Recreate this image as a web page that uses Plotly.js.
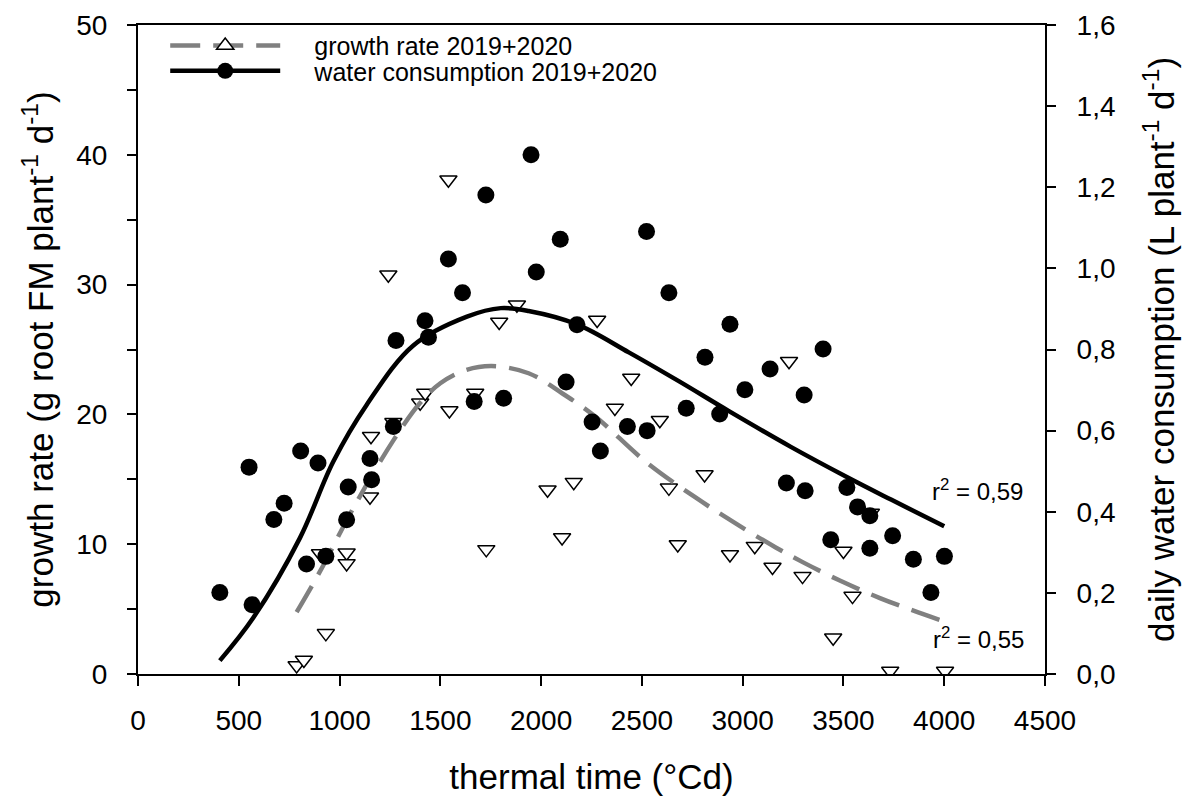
<!DOCTYPE html>
<html>
<head>
<meta charset="utf-8">
<script src="https://cdn.plot.ly/plotly-3.0.1.min.js"></script>
<style>html,body{margin:0;padding:0;background:#fff;}#chart{width:1184px;height:798px;}</style>
</head>
<body>
<div id="chart"></div>
<script>
// growth rate observations (g root FM plant-1 d-1), left axis
const growthX = [787, 823, 903, 932, 1035, 1035, 1151, 1156, 1242, 1267, 1400, 1425, 1540, 1545, 1673, 1728, 1792, 1880, 2032, 2104, 2162, 2278, 2366, 2447, 2589, 2634, 2678, 2811, 2937, 3060, 3148, 3230, 3297, 3449, 3500, 3545, 3636, 3732, 4004];
const growthY = [0.66, 1.08, 9.29, 3.13, 9.34, 8.52, 13.65, 18.32, 30.76, 19.4, 20.9, 21.65, 38.08, 20.3, 21.65, 9.6, 27.12, 28.45, 14.2, 10.52, 14.78, 27.27, 20.5, 22.81, 19.55, 14.34, 9.98, 15.37, 9.21, 9.85, 8.24, 24.1, 7.54, 2.79, 9.47, 6.0, 12.4, 0.23, 0.23];

// daily water consumption observations (L plant-1 d-1), right axis
const waterX = [406, 551, 566, 674, 725, 807, 836, 893, 932, 1035, 1043, 1151, 1159, 1267, 1280, 1424, 1441, 1540, 1610, 1668, 1726, 1814, 1950, 1976, 2095, 2124, 2178, 2253, 2294, 2428, 2523, 2526, 2634, 2720, 2813, 2886, 2937, 3011, 3136, 3217, 3305, 3310, 3399, 3437, 3517, 3570, 3631, 3631, 3744, 3847, 3934, 4001];
const waterY = [0.201, 0.510, 0.171, 0.381, 0.421, 0.550, 0.271, 0.520, 0.290, 0.380, 0.461, 0.531, 0.479, 0.610, 0.822, 0.871, 0.830, 1.023, 0.940, 0.672, 1.181, 0.680, 1.280, 0.991, 1.072, 0.720, 0.861, 0.621, 0.550, 0.610, 1.091, 0.600, 0.940, 0.655, 0.781, 0.641, 0.862, 0.701, 0.752, 0.471, 0.688, 0.452, 0.801, 0.331, 0.460, 0.412, 0.390, 0.310, 0.341, 0.283, 0.201, 0.290];

// fitted curves
const growthFitX = [787, 903, 1068, 1267, 1400, 1500, 1615, 1754, 1938, 2104, 2269, 2518, 2766, 2965, 3164, 3300, 3482, 3681, 3871, 3990];
const growthFitY = [4.77, 7.9, 12.78, 18.0, 20.9, 22.4, 23.35, 23.72, 23.17, 21.63, 19.83, 16.37, 13.6, 11.6, 9.75, 8.6, 7.2, 5.85, 4.75, 4.1];
const waterFitX = [406, 571, 803, 969, 1135, 1366, 1632, 1800, 1938, 2178, 2435, 2683, 2932, 3239, 3512, 3736, 4000];
const waterFitY = [0.033, 0.138, 0.335, 0.524, 0.664, 0.810, 0.881, 0.902, 0.895, 0.862, 0.793, 0.722, 0.648, 0.560, 0.487, 0.430, 0.364];

const seriesNames = ['growth rate 2019+2020', 'water consumption 2019+2020'];
const r2Labels = ['r<sup>2</sup> = 0,59', 'r<sup>2</sup> = 0,55'];

const FONT = 'Liberation Sans, Arial, sans-serif';
const GRAY = '#808080';
const PAD = '\u2003\u2006';

const traces = [
  { x: growthX, y: growthY, yaxis: 'y', mode: 'markers', type: 'scatter', showlegend: false,
    marker: { symbol: 'triangle-down', size: 15, color: '#ffffff', line: { color: '#000', width: 1.5 } } },
  { x: growthFitX, y: growthFitY, yaxis: 'y', mode: 'lines', type: 'scatter', showlegend: false,
    line: { color: GRAY, width: 4.5, dash: '30px,13px', shape: 'spline', smoothing: 1 } },
  { x: waterX, y: waterY, yaxis: 'y2', mode: 'markers', type: 'scatter', showlegend: false,
    marker: { symbol: 'circle', size: 17, color: '#000' } },
  { x: waterFitX, y: waterFitY, yaxis: 'y2', mode: 'lines', type: 'scatter', showlegend: false,
    line: { color: '#000', width: 4.5, shape: 'spline', smoothing: 1 } },
  // legend entries
  { x: [null], y: [null], yaxis: 'y', mode: 'lines+markers', type: 'scatter', name: PAD + seriesNames[0], legend: 'legend',
    line: { color: GRAY, width: 4.5, dash: '30px,13px' },
    marker: { symbol: 'triangle-up', size: 15, color: '#ffffff', line: { color: '#000', width: 1.5 } } },
  { x: [null], y: [null], yaxis: 'y2', mode: 'lines+markers', type: 'scatter', name: PAD + seriesNames[1], legend: 'legend2',
    line: { color: '#000', width: 4.5 },
    marker: { symbol: 'circle', size: 17, color: '#000' } }
];

const legendCommon = { xanchor: 'left', yanchor: 'middle', bgcolor: 'rgba(0,0,0,0)', borderwidth: 0,
  font: { family: FONT, size: 25, color: '#000' }, itemwidth: 110 };

const layout = {
  width: 1184, height: 798,
  margin: { l: 138, r: 139, t: 25, b: 124 },
  paper_bgcolor: '#fff', plot_bgcolor: '#fff',
  separators: ',.',
  font: { family: FONT, color: '#000' },
  xaxis: {
    range: [0, 4500], dtick: 500, tick0: 0, showgrid: false, zeroline: false,
    showline: true, linecolor: '#000', linewidth: 2, mirror: true,
    ticks: 'outside', ticklen: 10, tickwidth: 2, tickcolor: '#000',
    tickfont: { family: FONT, size: 28, color: '#000' }, ticklabelstandoff: 10,
    title: { text: 'thermal time (°Cd)', font: { family: FONT, size: 35, color: '#000' }, standoff: 30 }
  },
  yaxis: {
    range: [0, 50], dtick: 10, tick0: 0, showgrid: false, zeroline: false,
    showline: true, linecolor: '#000', linewidth: 2,
    ticks: 'outside', ticklen: 9, tickwidth: 2, tickcolor: '#000',
    minor: { dtick: 5, ticks: 'outside', ticklen: 9, tickwidth: 2, tickcolor: '#000', showgrid: false },
    tickfont: { family: FONT, size: 28, color: '#000' }, ticklabelstandoff: 14,
    title: { text: 'growth rate (g root FM plant<sup>-1</sup> d<sup>-1</sup>)', font: { family: FONT, size: 35, color: '#000' }, standoff: 12 }
  },
  yaxis2: {
    range: [0, 1.6], dtick: 0.2, tick0: 0, tickformat: '.1f', overlaying: 'y', side: 'right',
    showgrid: false, zeroline: false, showline: true, linecolor: '#000', linewidth: 2,
    ticks: 'outside', ticklen: 9, tickwidth: 2, tickcolor: '#000',
    tickfont: { family: FONT, size: 28, color: '#000' }, ticklabelstandoff: 15,
    title: { text: 'daily water consumption (L plant<sup>-1</sup> d<sup>-1</sup>)', font: { family: FONT, size: 35, color: '#000' }, standoff: 35 }
  },
  legend: Object.assign({ x: 0.03, y: 0.968 }, legendCommon),
  legend2: Object.assign({ x: 0.03, y: 0.929 }, legendCommon),
  annotations: [
    { x: 3930, y: 14.2, xref: 'x', yref: 'y', xanchor: 'left', yanchor: 'middle', showarrow: false,
      text: r2Labels[0], font: { family: FONT, size: 24, color: '#000' } },
    { x: 3935, y: 2.8, xref: 'x', yref: 'y', xanchor: 'left', yanchor: 'middle', showarrow: false,
      text: r2Labels[1], font: { family: FONT, size: 24, color: '#000' } }
  ],
  showlegend: true
};

Plotly.newPlot('chart', traces, layout, { staticPlot: true, displayModeBar: false });
</script>
</body>
</html>
